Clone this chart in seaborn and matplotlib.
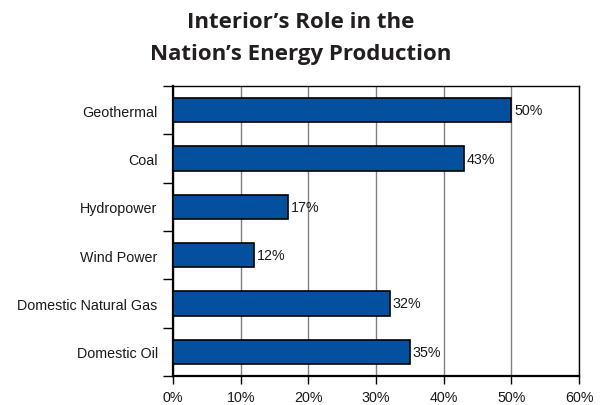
import matplotlib
matplotlib.use("Agg")
import matplotlib.pyplot as plt
import seaborn as sns
import pandas as pd
import numpy as np

categories = ["Geothermal", "Coal", "Hydropower", "Wind Power", "Domestic Natural Gas", "Domestic Oil"]
values = [50, 43, 17, 12, 32, 35]
xticks = [0, 10, 20, 30, 40, 50, 60]
xtick_labels = ["0%", "10%", "20%", "30%", "40%", "50%", "60%"]
title_lines = ["Interior\u2019s Role in the", "Nation\u2019s Energy Production"]

sns.set_theme(style="white")
plt.rcParams['font.family'] = ['Liberation Sans', 'DejaVu Sans']

df = pd.DataFrame({"cat": categories, "val": values})

fig = plt.figure(figsize=(6.02, 4.06), dpi=100)
ax = fig.add_axes([173/602, 1-377/406, (579-173)/602, (377-87)/406])

sns.barplot(data=df, y="cat", x="val", orient="h", color="#03509e", saturation=1,
            edgecolor="black", linewidth=1.2, width=0.5, ax=ax, zorder=3)

fs = 10.3
ax.set_xlim(0, 60)
ax.set_ylim(len(categories)-0.5, -0.5)
ax.set_xticks(xticks)
ax.set_xticklabels(xtick_labels, fontsize=fs, color="#1a1a1a")
ax.set_yticks(range(len(categories)))
ax.set_yticklabels(categories, fontsize=fs, color="#1a1a1a")
ax.set_yticks(np.arange(-0.5, len(categories), 1), minor=True)
ax.tick_params(axis="y", which="major", length=0, pad=11)
ax.tick_params(axis="y", which="minor", length=7, width=1, color="black", left=True)
ax.tick_params(axis="x", which="major", length=6, width=1, color="black", bottom=True, pad=4)
ax.set_xlabel("")
ax.set_ylabel("")
ax.xaxis.grid(True, color="#808080", linewidth=1.0, zorder=0)
ax.yaxis.grid(False)
ax.set_axisbelow(True)
for s in ax.spines.values():
    s.set_visible(True)
    s.set_color("black")
    s.set_linewidth(1.0)
ax.spines["left"].set_linewidth(1.6)
ax.spines["bottom"].set_linewidth(1.6)

for i, v in enumerate(values):
    ax.text(v + 0.4, i, f"{v}%", va="center", ha="left", fontsize=fs, color="#1a1a1a", zorder=4)

for line, base in zip(title_lines, [28, 60]):
    fig.text(0.5, 1 - base/406, line, ha="center", va="baseline", fontsize=16,
             fontweight="bold", color="#231f20", family=["Open Sans", "DejaVu Sans"])

fig.savefig("out.png", dpi=100)
